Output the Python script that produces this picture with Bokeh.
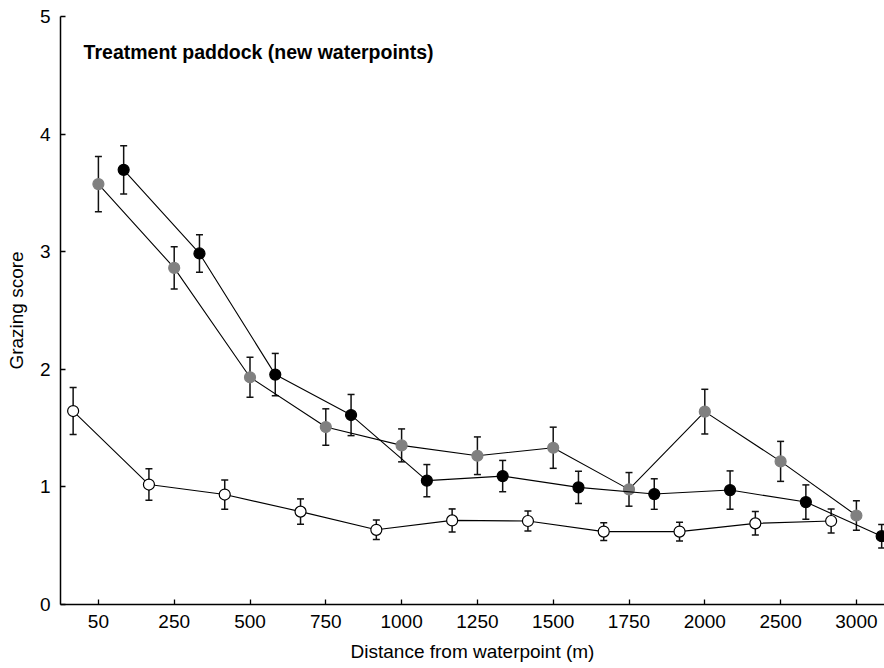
from bokeh.plotting import figure
from bokeh.models import ColumnDataSource, Whisker, TeeHead, Label, FixedTicker, Range1d
from bokeh.embed import file_html
from bokeh.resources import INLINE

# ---- data ----
categories = ["50", "250", "500", "750", "1000", "1250", "1500", "1750", "2000", "2500", "3000"]

white_mean = [1.645, 1.02, 0.935, 0.79, 0.635, 0.715, 0.71, 0.62, 0.62, 0.69, 0.71]
white_se = [0.20, 0.134, 0.124, 0.108, 0.083, 0.098, 0.085, 0.076, 0.08, 0.10, 0.102]

grey_mean = [3.575, 2.862, 1.932, 1.509, 1.353, 1.265, 1.333, 0.979, 1.64, 1.217, 0.757]
grey_se = [0.235, 0.18, 0.17, 0.155, 0.14, 0.16, 0.175, 0.143, 0.19, 0.17, 0.125]

black_mean = [3.696, 2.985, 1.955, 1.611, 1.053, 1.092, 0.996, 0.939, 0.973, 0.871, 0.581]
black_se = [0.205, 0.16, 0.18, 0.175, 0.137, 0.133, 0.137, 0.13, 0.163, 0.146, 0.10]

series_offsets = {"white": -1.0 / 3.0, "grey": 0.0, "black": 1.0 / 3.0}

FONT = "Liberation Sans"

p = figure(width=884, height=668, output_backend="svg", toolbar_location=None,
           x_range=Range1d(-0.5, -0.5 + 824 / 75.8), y_range=Range1d(0, 5),
           min_border_left=60, min_border_right=0, min_border_top=16, min_border_bottom=64)
p.outline_line_color = None
p.xgrid.visible = False
p.ygrid.visible = False
p.background_fill_color = "white"
p.border_fill_color = "white"


def add_series(mean, se, offset, fill, line):
    xs = [i + offset for i in range(len(mean))]
    src = ColumnDataSource(dict(x=xs, y=mean,
                                lo=[m - s for m, s in zip(mean, se)],
                                hi=[m + s for m, s in zip(mean, se)]))
    p.line("x", "y", source=src, line_color="black", line_width=1.1)
    w = Whisker(base="x", upper="hi", lower="lo", source=src, dimension="height",
                line_color="#111111", line_width=1.5,
                upper_head=TeeHead(size=7, line_color="#111111", line_width=1.5),
                lower_head=TeeHead(size=7, line_color="#111111", line_width=1.5))
    p.add_layout(w)
    p.scatter("x", "y", source=src, size=11, fill_color=fill, line_color=line, line_width=1.2)


add_series(white_mean, white_se, series_offsets["white"], "white", "black")
add_series(grey_mean, grey_se, series_offsets["grey"], "#808080", "#808080")
add_series(black_mean, black_se, series_offsets["black"], "black", "black")

# axes
p.xaxis.ticker = FixedTicker(ticks=list(range(len(categories))))
p.xaxis.major_label_overrides = {i: c for i, c in enumerate(categories)}
p.xaxis.minor_tick_line_color = None
p.xaxis.major_tick_in = 5
p.xaxis.major_tick_out = 0
p.xaxis.major_label_standoff = 10
p.xaxis.axis_label = "Distance from waterpoint (m)"
p.xaxis.axis_label_standoff = 10

p.yaxis.ticker = FixedTicker(ticks=[0, 1, 2, 3, 4, 5])
p.yaxis.minor_tick_line_color = None
p.yaxis.major_tick_in = 5
p.yaxis.major_tick_out = 0
p.yaxis.major_label_standoff = 10
p.yaxis.axis_label = "Grazing score"
p.yaxis.axis_label_standoff = 10

for ax in (p.xaxis[0], p.yaxis[0]):
    ax.axis_line_color = "black"
    ax.axis_line_width = 1.5
    ax.major_tick_line_color = "black"
    ax.major_tick_line_width = 1.3
    ax.major_label_text_font = FONT
    ax.major_label_text_font_size = "19px"
    ax.major_label_text_color = "black"
    ax.axis_label_text_font = FONT
    ax.axis_label_text_font_size = "19px"
    ax.axis_label_text_font_style = "normal"
    ax.axis_label_text_color = "black"

title = Label(x=-0.195, y=4.70, text="Treatment paddock (new waterpoints)",
              text_font=FONT, text_font_size="19.5px", text_font_style="bold",
              text_color="black", text_baseline="alphabetic", text_align="left")
p.add_layout(title)

open("out.html", "w").write(file_html(p, INLINE))
